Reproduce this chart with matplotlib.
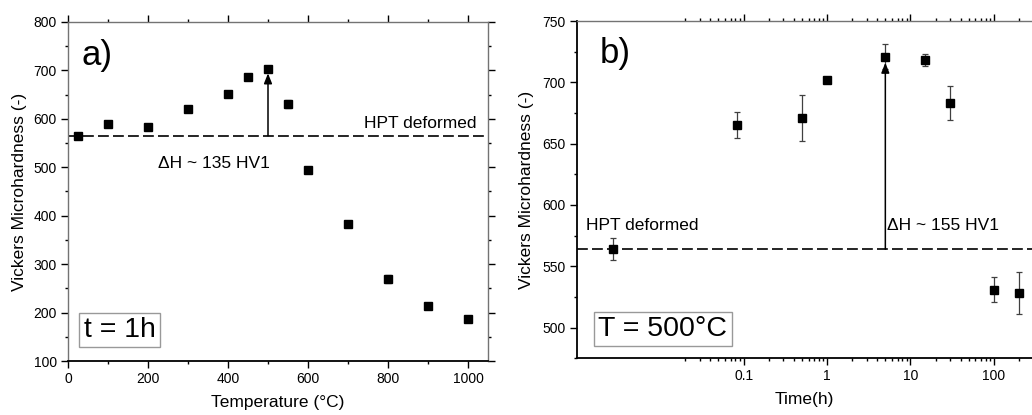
import numpy as np
import matplotlib
matplotlib.use("Agg")
import matplotlib.pyplot as plt
from matplotlib.ticker import FixedLocator, MultipleLocator, FuncFormatter

plt.rcParams["font.family"] = ["Liberation Sans", "DejaVu Sans"]

# panel a: isochronal annealing (1 h)
temp = [25, 100, 200, 300, 400, 450, 500, 550, 600, 700, 800, 900, 1000]
hv_temp = [565, 589, 583, 620, 652, 686, 703, 631, 495, 383, 269, 214, 187]
err_temp = [3, 3, 3, 3, 3, 3, 3, 8.5, 3, 3, 8.5, 4, 3]

# panel b: isothermal annealing at 500 C (first point = as deformed)
time_h = [0.0027, 0.083, 0.5, 1, 5, 15, 30, 100, 200]
hv_time = [564, 665, 671, 702, 721, 718, 683, 531, 528]
err_time = [9, 10.5, 19, 2.5, 10.5, 5, 14, 10, 17]

hpt_a = 565
hpt_b = 564
log_major = [0.1, 1, 10, 100, 1000]
log_minor = [k * 10.0 ** d for d in range(-2, 3) for k in range(2, 10) if k * 10.0 ** d >= 0.02]

W, H = 1032, 415
fig = plt.figure(figsize=(W / 100, H / 100), dpi=100)
ax_a = fig.add_axes([68 / W, 1 - 361 / H, 420 / W, 339 / H])
ax_b = fig.add_axes([576.7 / W, 1 - 358.3 / H, 463.3 / W, 337.3 / H])

dash = (0, (6.5, 2.5))
ylab = "Vickers Microhardness (-)"

for ax in (ax_a, ax_b):
    for s in ax.spines.values():
        s.set_linewidth(1.3)
    ax.tick_params(which="both", direction="out", top=True, right=True, width=1.0, labelsize=10, pad=3)
    ax.tick_params(which="major", length=5)
    ax.tick_params(which="minor", length=2.5)
# thinner grey frame lines, as in the source figure
for side in ("left", "right", "top"):
    ax_a.spines[side].set_color("0.45")
    ax_a.spines[side].set_linewidth(1.0)
ax_b.spines["top"].set_color("0.45")
ax_b.spines["top"].set_linewidth(1.0)

# ---- a)
ax_a.errorbar(temp, hv_temp, yerr=err_temp, fmt="s", color="k", ms=5.5, ecolor="0.25",
              elinewidth=0.9, capsize=2.4, capthick=0.9, zorder=3)
ax_a.axhline(hpt_a, color="k", lw=1.2, ls=dash)
ax_a.annotate("", xy=(500, 694), xytext=(500, hpt_a),
              arrowprops=dict(arrowstyle="-|>,head_length=0.5,head_width=0.2", color="k", lw=1.1,
                              mutation_scale=12, shrinkA=0, shrinkB=0))
ax_a.text(1020, 582, "HPT deformed", fontsize=12.5, ha="right", va="baseline")
ax_a.text(225, 498, "\u0394H ~ 135 HV1", fontsize=12.5, ha="left", va="baseline")
ax_a.text(0.033, 0.873, "a)", fontsize=25, transform=ax_a.transAxes, va="baseline")
ax_a.text(0.123, 0.091, "t = 1h", fontsize=20.5, transform=ax_a.transAxes, ha="center", va="center",
          bbox=dict(boxstyle="square,pad=0.15", fc="white", ec="0.6", lw=1.0))
ax_a.set_xlim(0, 1050)
ax_a.set_ylim(100, 800)
ax_a.xaxis.set_major_locator(MultipleLocator(200))
ax_a.xaxis.set_minor_locator(MultipleLocator(100))
ax_a.yaxis.set_major_locator(MultipleLocator(100))
ax_a.yaxis.set_minor_locator(MultipleLocator(50))
ax_a.set_xlabel("Temperature (\u00b0C)", fontsize=12.5)
ax_a.set_ylabel(ylab, fontsize=12.5)
ax_a.xaxis.set_label_coords(0.5, -0.1)
ax_a.yaxis.set_label_coords(-0.098, 0.5)

# ---- b)
ax_b.set_xscale("log")
ax_b.errorbar(time_h, hv_time, yerr=err_time, fmt="s", color="k", ms=5.5, ecolor="0.25",
              elinewidth=0.9, capsize=2.4, capthick=0.9, zorder=3)
ax_b.axhline(hpt_b, color="k", lw=1.2, ls=dash)
ax_b.annotate("", xy=(5, 716), xytext=(5, hpt_b),
              arrowprops=dict(arrowstyle="-|>,head_length=0.5,head_width=0.2", color="k", lw=1.1,
                              mutation_scale=12, shrinkA=0, shrinkB=0))
ax_b.text(0.00131, 579.7, "HPT deformed", fontsize=12.5, ha="left", va="baseline")
ax_b.text(5.2, 579.7, "\u0394H ~ 155 HV1", fontsize=12.5, ha="left", va="baseline")
ax_b.text(0.049, 0.875, "b)", fontsize=25, transform=ax_b.transAxes, va="baseline")
ax_b.text(0.186, 0.087, "T = 500\u00b0C", fontsize=20.5, transform=ax_b.transAxes, ha="center", va="center",
          bbox=dict(boxstyle="square,pad=0.15", fc="white", ec="0.6", lw=1.0))
ax_b.set_xlim(1e-3, 357)
ax_b.set_ylim(475, 750)
ax_b.xaxis.set_major_locator(FixedLocator(log_major))
ax_b.xaxis.set_minor_locator(FixedLocator(log_minor))
ax_b.xaxis.set_major_formatter(FuncFormatter(lambda v, p: f"{v:g}"))
ax_b.xaxis.set_minor_formatter(FuncFormatter(lambda v, p: ""))
ax_b.yaxis.set_major_locator(MultipleLocator(50))
ax_b.yaxis.set_minor_locator(MultipleLocator(25))
ax_b.set_xlabel("Time(h)", fontsize=12.5)
ax_b.set_ylabel(ylab, fontsize=12.5)
ax_b.xaxis.set_label_coords(0.492, -0.1)
ax_b.yaxis.set_label_coords(-0.093, 0.5)

fig.savefig("out.png", dpi=100)
